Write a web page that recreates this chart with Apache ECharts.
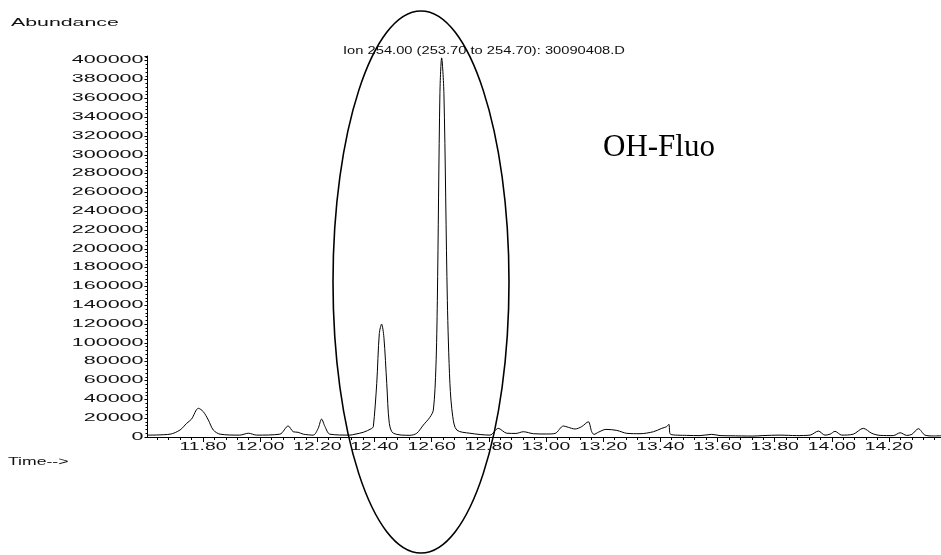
<!DOCTYPE html>
<html>
<head>
<meta charset="utf-8">
<script src="https://cdn.jsdelivr.net/npm/echarts@6.0.0/dist/echarts.min.js"></script>
<style>
  html, body { margin: 0; padding: 0; background: #fff; }
  #c { width: 941px; height: 555px; }
</style>
</head>
<body>
<div id="c"></div>
<script>
// ---- data (retention time in min, abundance) ----
const times = [
  11.606, 11.685, 11.720, 11.743, 11.760, 11.784, 11.801, 11.819, 11.836, 11.860,
  11.929, 11.959, 11.988, 12.069, 12.098, 12.116, 12.133, 12.151, 12.186, 12.203,
  12.215, 12.227, 12.244, 12.314, 12.332, 12.361, 12.390, 12.396, 12.408, 12.417,
  12.425, 12.433, 12.443, 12.452, 12.466, 12.524, 12.548, 12.571, 12.594, 12.606,
  12.615, 12.620, 12.629, 12.635, 12.643, 12.655, 12.664, 12.674, 12.688, 12.734,
  12.804, 12.833, 12.863, 12.895, 12.921, 12.956, 13.003, 13.032, 13.061, 13.078,
  13.102, 13.125, 13.148, 13.160, 13.168, 13.183, 13.210, 13.248, 13.283, 13.329,
  13.376, 13.405, 13.422, 13.430, 13.436, 13.492, 13.539, 13.580, 13.609, 13.644,
  13.724, 13.759, 13.819, 13.877, 13.924, 13.953, 13.976, 13.994, 14.011, 14.035,
  14.075, 14.110, 14.140, 14.169, 14.215, 14.239, 14.262, 14.280, 14.303, 14.326,
  14.355, 14.382
];
const abundance = [
  2000, 3000, 7500, 14500, 19000, 30500, 27000, 18000, 7500, 3000,
  2000, 4000, 2000, 3000, 11700, 5600, 5000, 3000, 2000, 9200,
  19000, 11000, 3000, 2000, 3000, 5000, 9000, 11000, 57000, 110000,
  120000, 106000, 57000, 14500, 4000, 1800, 4000, 12700, 21000, 28600,
  74500, 145000, 365000, 403000, 365000, 145000, 57000, 21500, 7400, 4000,
  2000, 9200, 4000, 3800, 5600, 3500, 3200, 3800, 11700, 10300,
  8500, 11000, 16200, 5600, 2800, 5000, 8100, 7000, 3900, 3500,
  5600, 9200, 11000, 13500, 2800, 1700, 1500, 2800, 1500, 1300,
  1000, 1500, 2000, 1500, 2000, 6300, 2000, 3000, 6000, 2000,
  3000, 9200, 3900, 1700, 1500, 4500, 1700, 2800, 8800, 2000,
  1100, 1300
];
const xTickLabels = ['11.80', '12.00', '12.20', '12.40', '12.60', '12.80', '13.00',
  '13.20', '13.40', '13.60', '13.80', '14.00', '14.20'];
const yTickLabels = ['0', '20000', '40000', '60000', '80000', '100000', '120000',
  '140000', '160000', '180000', '200000', '220000', '240000', '260000', '280000',
  '300000', '320000', '340000', '360000', '380000', '400000'];
const titleText = 'Ion 254.00 (253.70 to 254.70): 30090408.D';
const yAxisName = 'Abundance';
const xAxisName = 'Time-->';
const annotation = 'OH-Fluo';

// ---- chart ----
const X_MIN = 11.606, X_MAX = 14.382, Y_MAX = 405000;
const majorTicks = xTickLabels.map(Number);
const minorTicks = [];
for (let k = -5; k <= 70; k++) {
  const v = +(11.80 + k * 0.04).toFixed(2);
  if (v >= X_MIN && v <= X_MAX && !majorTicks.some(m => Math.abs(m - v) < 1e-6)) minorTicks.push(v);
}

const chart = echarts.init(document.getElementById('c'), null, { renderer: 'canvas' });
const axisLineStyle = { color: '#000', width: 1 };

chart.setOption({
  animation: false,
  backgroundColor: '#fff',
  grid: { left: 147.5, right: 0, top: 56, bottom: 118, containLabel: false, outerBoundsMode: 'none' },
  xAxis: [
    {
      type: 'value', min: X_MIN, max: X_MAX, position: 'bottom',
      axisLine: { show: true, lineStyle: axisLineStyle },
      axisTick: { show: true, customValues: majorTicks, length: 5, lineStyle: axisLineStyle },
      axisLabel: { show: false },
      splitLine: { show: false }
    },
    {
      type: 'value', min: X_MIN, max: X_MAX, position: 'bottom',
      axisLine: { show: false },
      axisTick: { show: true, customValues: minorTicks, length: 3, lineStyle: axisLineStyle },
      axisLabel: { show: false },
      splitLine: { show: false }
    }
  ],
  yAxis: {
    type: 'value', min: 0, max: Y_MAX, interval: 20000,
    axisLine: { show: true, lineStyle: axisLineStyle },
    axisTick: { show: true, length: 3, lineStyle: axisLineStyle },
    minorTick: { show: true, splitNumber: 5, length: 2, lineStyle: axisLineStyle },
    axisLabel: { show: false },
    splitLine: { show: false }
  },
  series: [{
    type: 'line',
    xAxisIndex: 0,
    data: times.map((t, i) => [t, abundance[i]]),
    showSymbol: false,
    smooth: 0.3,
    lineStyle: { color: '#000', width: 1 },
    z: 3
  }]
});

// stretched (wide) sans labels, as in the instrument print-out
const FONT = '"Liberation Sans", Arial, Helvetica, sans-serif';
function wideText(text, x, y, sx, align) {
  return {
    type: 'text', x: x, y: y, scaleX: sx, z: 20, silent: true,
    style: {
      text: text, fill: '#111', fontSize: 10, fontFamily: FONT,
      align: align, textAlign: align, verticalAlign: 'middle', textVerticalAlign: 'middle'
    }
  };
}

const g = [];
yTickLabels.forEach(l => {
  const py = chart.convertToPixel({ yAxisIndex: 0 }, Number(l));
  g.push(wideText(l, 143.5, py, 2.15, 'right'));
});
xTickLabels.forEach(l => {
  const px = chart.convertToPixel({ xAxisIndex: 0 }, Number(l));
  g.push(wideText(l, px, 447.5, 1.93, 'center'));
});
g.push(wideText(titleText, 484, 51, 1.47, 'center'));
g.push(wideText(yAxisName, 11, 23, 2.13, 'left'));
g.push(wideText(xAxisName, 8, 462, 1.76, 'left'));
g.push({
  type: 'text', x: 603, y: 148, z: 20, silent: true,
  style: {
    text: annotation, fill: '#000', fontSize: 31, fontFamily: '"Liberation Serif", "Times New Roman", serif',
    align: 'left', textAlign: 'left', verticalAlign: 'middle', textVerticalAlign: 'middle'
  }
});
g.push({
  type: 'ellipse', z: 30, silent: true,
  shape: { cx: 421, cy: 282, rx: 88, ry: 271 },
  style: { fill: 'none', stroke: '#000', lineWidth: 1.6 }
});
chart.setOption({ graphic: g });
</script>
</body>
</html>
